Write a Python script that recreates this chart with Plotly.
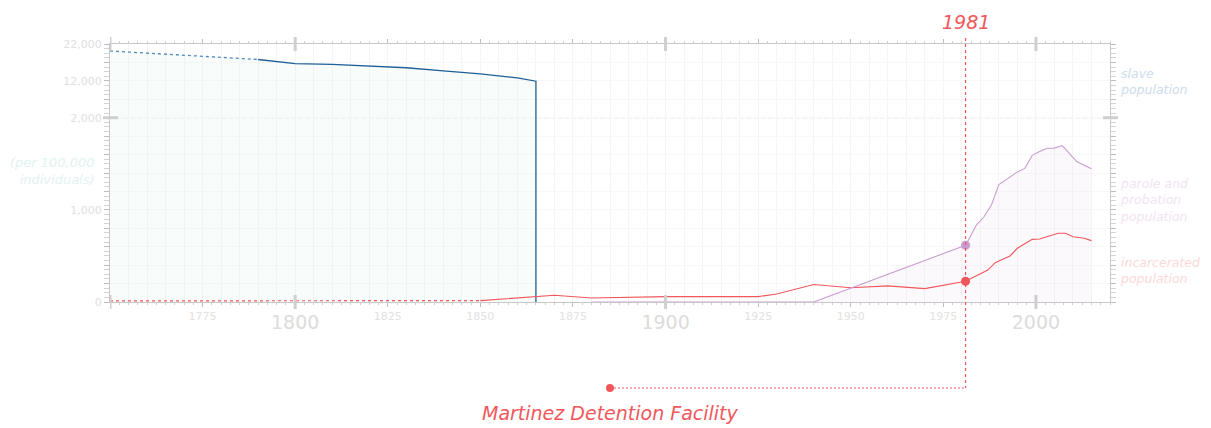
import plotly.graph_objects as go

# ---------------- data (rates per 100,000 individuals) ----------------
slave_years = [1750, 1790, 1800, 1810, 1820, 1830, 1840, 1850, 1860, 1865]
slave_rate = [20100, 17800, 16700, 16450, 16050, 15550, 14700, 13900, 12800, 11900]

incarcerated_years = [1750, 1850, 1865, 1870, 1880, 1900, 1925, 1930, 1940, 1950, 1960,
                      1970, 1981, 1984, 1987, 1989, 1993, 1995, 1999, 2001, 2003, 2006,
                      2008, 2010, 2013, 2015]
incarcerated_rate = [12, 15, 58, 73, 43, 58, 58, 87, 190, 155, 175,
                     145, 225, 282, 347, 427, 500, 583, 680, 684, 709, 746,
                     746, 709, 691, 666]

parole_years = [1880, 1940, 1981, 1983, 1984, 1986, 1988, 1990, 1992, 1993, 1995, 1997,
                1999, 2001, 2003, 2005, 2007, 2008, 2010, 2011, 2015]
parole_rate = [0, 0, 616, 760, 840, 925, 1054, 1275, 1332, 1352, 1412, 1450,
               1592, 1633, 1668, 1670, 1698, 1660, 1561, 1524, 1445]

y_tick_values = [0, 1000, 2000, 12000, 22000]
y_tick_labels = ["0", "1,000", "2,000", "12,000", "22,000"]
x_small_ticks = [1775, 1825, 1850, 1875, 1925, 1950, 1975]
x_big_ticks = [1750, 1800, 1900, 2000]
x_big_labels = ["", "1800", "1900", "2000"]

highlight_year = 1981
facility_name = "Martinez Detention Facility"
facility_label_year = 1885

# ---------------- broken y scale ----------------
def ty(v):
    return v / 1000.0 if v <= 2000 else 2.0 + (v - 2000) / 25000.0

def tys(vals):
    return [ty(v) for v in vals]

RED = "#f0575b"
PURPLE = "#c99ccf"
BLUE = "#1f5f98"
FONT = "DejaVu Sans"

fig = go.Figure()

# slave fill
fig.add_trace(go.Scatter(
    x=slave_years + [slave_years[-1]], y=tys(slave_rate) + [0],
    mode="lines", line=dict(width=0), fill="tozeroy",
    fillcolor="rgba(215,240,233,0.18)", hoverinfo="skip", showlegend=False))
# parole fill
fig.add_trace(go.Scatter(
    x=parole_years, y=tys(parole_rate), mode="lines", line=dict(width=0),
    fill="tozeroy", fillcolor="rgba(225,195,235,0.10)", hoverinfo="skip",
    showlegend=False))

# slave lines (dotted early segment, solid after)
fig.add_trace(go.Scatter(
    x=slave_years[:2], y=tys(slave_rate[:2]), mode="lines",
    line=dict(color="#4f88bd", width=1.3, dash="dot"), showlegend=False))
fig.add_trace(go.Scatter(
    x=slave_years[1:] + [slave_years[-1]], y=tys(slave_rate[1:]) + [0], mode="lines",
    line=dict(color=BLUE, width=1.3), showlegend=False))

# incarcerated
fig.add_trace(go.Scatter(
    x=incarcerated_years[:2], y=tys(incarcerated_rate[:2]), mode="lines",
    line=dict(color=RED, width=1.2, dash="dot"), showlegend=False))
fig.add_trace(go.Scatter(
    x=incarcerated_years[1:], y=tys(incarcerated_rate[1:]), mode="lines",
    line=dict(color=RED, width=1.1), showlegend=False))

# parole & probation
fig.add_trace(go.Scatter(
    x=parole_years, y=tys(parole_rate), mode="lines",
    line=dict(color=PURPLE, width=1.1), showlegend=False))

# highlight markers
hi_inc = incarcerated_rate[incarcerated_years.index(highlight_year)]
hi_par = parole_rate[parole_years.index(highlight_year)]
fig.add_trace(go.Scatter(x=[highlight_year], y=[ty(hi_par)], mode="markers",
                         marker=dict(color=PURPLE, size=9), showlegend=False, cliponaxis=False))
fig.add_trace(go.Scatter(x=[highlight_year], y=[ty(hi_inc)], mode="markers",
                         marker=dict(color=RED, size=9), showlegend=False, cliponaxis=False))

# invisible trace for overlay axis
fig.add_trace(go.Scatter(x=[1750, 2020], y=[0, 0], xaxis="x2", mode="lines",
                         line=dict(width=0), hoverinfo="skip", showlegend=False))

PH = 258.0  # plot height px
PW = 1000.0  # plot width px

shapes = []
# dashed 2,000 line
shapes.append(dict(type="line", xref="paper", yref="y", x0=0, x1=1, y0=ty(2000), y1=ty(2000),
                   line=dict(color="#c4c4c4", width=1, dash="4px,3px"), layer="below"))
# thick y ticks at 2,000
for x0, x1 in [(-7 / PW, 8 / PW), (1 - 7 / PW, 1 + 8 / PW)]:
    shapes.append(dict(type="line", xref="paper", yref="y", x0=x0, x1=x1,
                       y0=ty(2000), y1=ty(2000), line=dict(color="#cfcfcf", width=3)))
# thick x ticks (bottom and top)
for yr in x_big_ticks:
    for c in (0, 1):
        shapes.append(dict(type="line", xref="x", yref="paper", x0=yr, x1=yr,
                           y0=c - 7 / PH, y1=c + 7 / PH, line=dict(color="#cfcfcf", width=3)))
# 1981 vertical line and connector
y_conn = -(388 - 302) / PH
shapes.append(dict(type="line", xref="x", yref="paper", x0=highlight_year, x1=highlight_year,
                   y0=1 + 6 / PH, y1=y_conn, line=dict(color=RED, width=1.2, dash="3px,3px")))
shapes.append(dict(type="line", xref="x", yref="paper", x0=facility_label_year, x1=highlight_year,
                   y0=y_conn, y1=y_conn, line=dict(color=RED, width=1.2, dash="2px,2px")))
shapes.append(dict(type="circle", xref="x", yref="paper", xsizemode="pixel", ysizemode="pixel",
                   xanchor=facility_label_year, yanchor=y_conn, x0=-4, x1=4, y0=-4, y1=4,
                   fillcolor=RED, line=dict(width=0)))

RL = 12.5  # right label font size
annotations = [
    dict(text=str(highlight_year), xref="x", yref="paper", x=highlight_year,
         y=1 + (44 - 22) / PH, showarrow=False, yanchor="middle",
         font=dict(family=FONT, size=19, color=RED, style="italic")),
    dict(text=facility_name, xref="x", yref="paper", x=facility_label_year,
         y=-(413 - 302) / PH, showarrow=False, yanchor="middle",
         font=dict(family=FONT, size=19, color=RED, style="italic")),
    dict(text="(per 100,000<br>individuals)", xref="paper", yref="paper", x=-13 / PW,
         y=(302 - 171) / PH, xanchor="right", yanchor="middle", align="right", showarrow=False,
         font=dict(family=FONT, size=13, color="#e2f2ef", style="italic")),
    dict(text="slave<br>population", xref="paper", yref="paper", x=1 + 8 / PW,
         y=(302 - 81) / PH, xanchor="left", yanchor="middle", align="left", showarrow=False,
         font=dict(family=FONT, size=RL, color="#cddcea", style="italic")),
    dict(text="parole and<br>probation<br>population", xref="paper", yref="paper", x=1 + 8 / PW,
         y=(302 - 200) / PH, xanchor="left", yanchor="middle", align="left", showarrow=False,
         font=dict(family=FONT, size=RL, color="#f2e3f2", style="italic")),
    dict(text="incarcerated<br>population", xref="paper", yref="paper", x=1 + 8 / PW,
         y=(302 - 270) / PH, xanchor="left", yanchor="middle", align="left", showarrow=False,
         font=dict(family=FONT, size=RL, color="#fdd8d8", style="italic")),
]

y_all_ticks = [round(i * 0.2, 4) for i in range(15)]
label_map = {round(ty(v), 4): lab for v, lab in zip(y_tick_values, y_tick_labels)}
y_all_text = [label_map.get(t, "") for t in y_all_ticks]

fig.update_layout(
    width=1195, height=420,
    margin=dict(l=102, r=93, t=36, b=126),
    paper_bgcolor="white", plot_bgcolor="white",
    font=dict(family=FONT),
    showlegend=False,
    xaxis=dict(range=[1750, 2020], tickmode="array", tickvals=x_small_ticks,
               ticktext=[str(v) for v in x_small_ticks],
               tickfont=dict(size=11, color="#e2e2e2"),
               ticks="outside", ticklen=4, tickcolor="#bdbdbd", tickwidth=1,
               showline=True, linecolor="#c8c8c8", linewidth=1, mirror="allticks",
               showgrid=False, zeroline=False,
               minor=dict(tickmode="linear", tick0=1750, dtick=2.5, ticks="outside",
                          ticklen=2, tickcolor="#cfcfcf", showgrid=False)),
    xaxis2=dict(range=[1750, 2020], overlaying="x", side="bottom", tickmode="array",
                tickvals=x_big_ticks, ticktext=x_big_labels,
                tickfont=dict(size=19, color="#dcdcdc"), ticks="outside", ticklen=3,
                tickcolor="rgba(0,0,0,0)", showline=False, showgrid=False, zeroline=False,
                minor=dict(tickmode="linear", tick0=1750, dtick=5, ticks="",
                           showgrid=True, gridcolor="#f5f5f5", gridwidth=1)),
    yaxis=dict(range=[0, 2.8], tickmode="array", tickvals=y_all_ticks, ticktext=y_all_text,
               tickfont=dict(size=11, color="#e0e0e0"),
               ticks="outside", ticklen=5, tickcolor="#bdbdbd",
               showline=True, linecolor="#c8c8c8", linewidth=1, mirror="allticks",
               showgrid=True, gridcolor="#f8f8f8", zeroline=False,
               minor=dict(tickmode="linear", tick0=0, dtick=0.05, ticks="outside",
                          ticklen=2, tickcolor="#d4d4d4", showgrid=False)),
    shapes=shapes,
    annotations=annotations,
)

fig.write_html("out.html")
